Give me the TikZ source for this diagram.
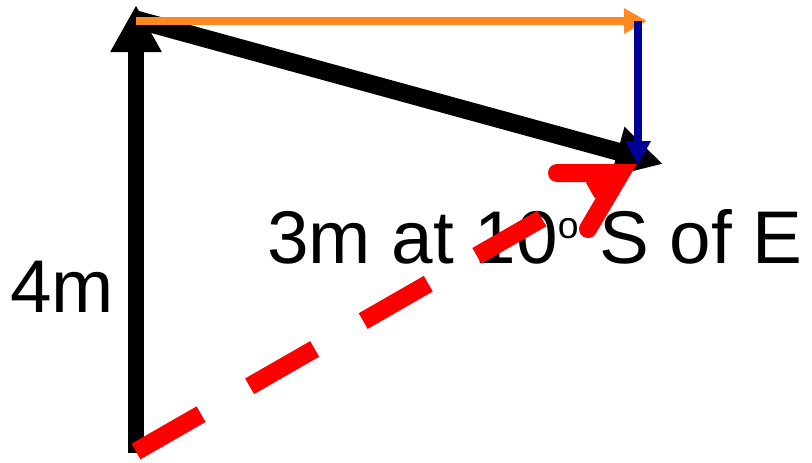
\documentclass[tikz,border=0pt]{standalone}
\usepackage{fontspec}
\setmainfont{Liberation Sans}
\usetikzlibrary{arrows.meta}
\definecolor{vorange}{RGB}{255,136,34}
\definecolor{vblue}{RGB}{0,0,153}
\definecolor{vred}{RGB}{255,0,0}
\newcommand{\supo}{\raisebox{18.5pt}{\fontsize{28}{30}\selectfont o}}
\begin{document}
\begin{tikzpicture}[x=0.75pt,y=-0.75pt,
  blackvec/.style={draw=black,line width=12pt,-{Triangle[length=35.25pt,width=36pt]}},
  orangevec/.style={draw=vorange,line width=6pt,-{Triangle[length=17.25pt,width=18pt]}},
  bluevec/.style={draw=vblue,line width=6pt,-{Triangle[length=18pt,width=18pt]}},
  redline/.style={draw=vred,line width=13.5pt,dash pattern=on 56.25pt off 42pt},
  redhead/.style={draw=vred,line width=13.5pt,line cap=round,line join=miter},
  lab/.style={anchor=base west,inner sep=0pt,font=\fontsize{56}{60}\selectfont}]
\useasboundingbox (0,0) rectangle (812,462);
% coordinates
\coordinate (vb) at (136,453);
\coordinate (vt) at (136,5);
\coordinate (d0) at (136,19.5);
\coordinate (dt) at (663,164);
\coordinate (o0) at (136,21);
\coordinate (ot) at (647,21);
\coordinate (b0) at (638,21);
\coordinate (bt) at (638,165);
\coordinate (r0) at (136,451.5);
\coordinate (rp) at (621,173);
\coordinate (ra1) at (557,173);
\coordinate (ra2) at (588,229);
% black vectors
\draw[blackvec] (vb) -- (vt);
\draw[blackvec,line width=13.5pt] (d0) -- (dt);
% components
\draw[orangevec] (o0) -- (ot);
\draw[bluevec] (b0) -- (bt);
% labels
\node[lab] (lab4) at (10,312) {4m};
\node[lab] (lab3) at (267,263) {3m at 10\supo\ S of E};
% resultant
\draw[redline] (r0) -- (rp);
\draw[redhead] (ra1) -- (rp) -- (ra2);
\end{tikzpicture}
\end{document}
